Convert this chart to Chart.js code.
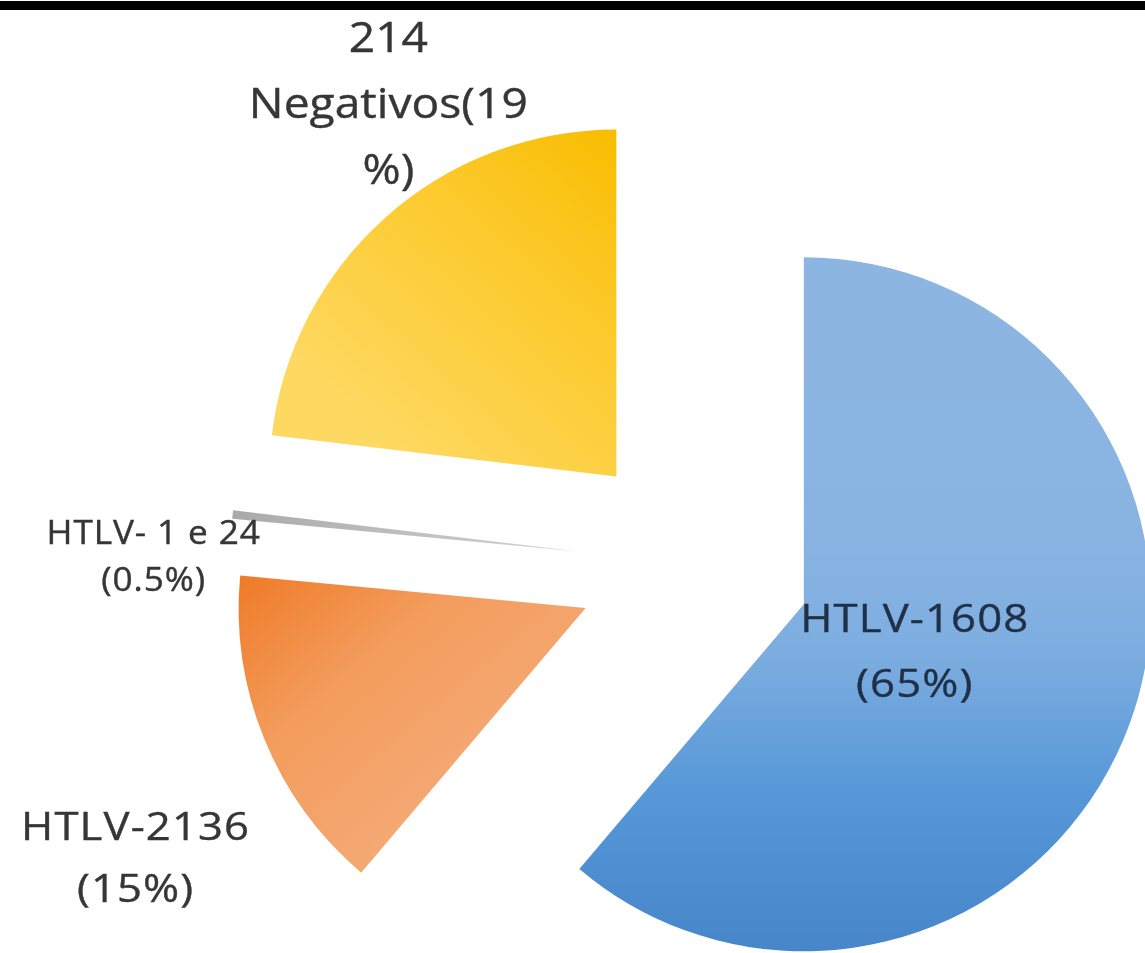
<!DOCTYPE html>
<html>
<head>
<meta charset="utf-8">
<script src="https://cdn.jsdelivr.net/npm/chart.js@4.4.1/dist/chart.umd.min.js"></script>
<style>
  html, body { margin: 0; padding: 0; background: #fff; overflow: hidden; }
  #barra { position: absolute; top: 1px; left: 0; width: 1145px; height: 9px; background: #000; z-index: 2; }
  #grafico { position: absolute; top: 0; left: 0; }
</style>
</head>
<body>
<div id="barra"></div>
<canvas id="grafico" width="1145" height="953"></canvas>
<script>
const categorias = ['HTLV-1', 'HTLV-2', 'HTLV-1 e 2', 'Negativos'];
const fatias = [61.2, 15.3, 0.4, 23.1];
const rotulos = [
    ['HTLV-1608', '(65%)'],
    ['HTLV-2136', '(15%)'],
    ['HTLV- 1 e 24', '(0.5%)'],
    ['214', 'Negativos(19', '%)']
];

const raio = 347;
const explosao = 117;

// gradiente de cada fatia a partir do vertice (x,y)
const gradientes = [
    (ctx, x, y, r) => {
        const g = ctx.createLinearGradient(x, y - r, x, y + r);
        g.addColorStop(0, '#8db5e1');
        g.addColorStop(0.4, '#89b4e2');
        g.addColorStop(0.57, '#7dade0');
        g.addColorStop(0.78, '#5597d8');
        g.addColorStop(1, '#4786c9');
        return g;
    },
    (ctx, x, y, r) => {
        const g = ctx.createLinearGradient(x - r, y - 0.1 * r, x - 0.45 * r, y + 0.55 * r);
        g.addColorStop(0, '#ef7a27');
        g.addColorStop(0.5, '#f39c5c');
        g.addColorStop(1, '#f4a872');
        return g;
    },
    (ctx, x, y, r) => {
        const g = ctx.createLinearGradient(x - r, y, x, y);
        g.addColorStop(0, '#a9a9a9');
        g.addColorStop(1, '#d4d4d4');
        return g;
    },
    (ctx, x, y, r) => {
        const g = ctx.createLinearGradient(x, y - r, x - 0.75 * r, y - 0.15 * r);
        g.addColorStop(0, '#f7bd00');
        g.addColorStop(0.35, '#fcc826');
        g.addColorStop(1, '#fed962');
        return g;
    }
];

// posicao dos rotulos medida a partir do vertice da fatia
const estiloRotulo = [
    { dx: 111, dy: 28, tam: 39, linha: 65, espaco: 1, escala: 1.12, cor: '#1f3047' },
    { dx: -450, dy: 232, tam: 39, linha: 62, espaco: 1, escala: 1.12, cor: '#363636' },
    { dx: -424, dy: -8, tam: 32, linha: 47, espaco: 0.8, escala: 1.1, cor: '#363636' },
    { dx: -228, dy: -424, tam: 42, linha: 66, espaco: 0, escala: 1.1, cor: '#363636' }
];

const explodir = {
    id: 'explodir',
    afterDatasetUpdate(chart, args) {
        const ctx = chart.ctx;
        args.meta.data.forEach((arco, i) => {
            const meio = (arco.startAngle + arco.endAngle) / 2;
            arco.x += Math.cos(meio) * explosao;
            arco.y += Math.sin(meio) * explosao;
            arco.options = Object.assign({}, arco.options, {
                backgroundColor: gradientes[i](ctx, arco.x, arco.y, arco.outerRadius)
            });
        });
    }
};

const rotular = {
    id: 'rotular',
    afterDatasetsDraw(chart) {
        const ctx = chart.ctx;
        const arcos = chart.getDatasetMeta(0).data;
        arcos.forEach((arco, i) => {
            const e = estiloRotulo[i];
            rotulos[i].forEach((linha, j) => {
                ctx.save();
                ctx.translate(arco.x + e.dx, arco.y + e.dy + j * e.linha);
                ctx.scale(e.escala, 1);
                ctx.font = e.tam + 'px "Open Sans"';
                ctx.textAlign = 'center';
                ctx.textBaseline = 'alphabetic';
                ctx.letterSpacing = e.espaco + 'px';
                ctx.fillStyle = e.cor;
                ctx.strokeStyle = e.cor;
                ctx.lineWidth = 0.4;
                ctx.fillText(linha, 0, 0);
                ctx.strokeText(linha, 0, 0);
                ctx.restore();
            });
        });
    }
};

const grafico = new Chart(document.getElementById('grafico'), {
    type: 'pie',
    data: {
        labels: categorias,
        datasets: [{
            data: fatias,
            backgroundColor: ['#7aaade', '#f29550', '#bfbfbf', '#fcca2e'],
            borderWidth: 0,
            radius: raio
        }]
    },
    options: {
        responsive: false,
        animation: false,
        events: [],
        layout: { padding: { left: 243, top: 175, right: 0, bottom: 0 } },
        plugins: {
            legend: { display: false },
            tooltip: { enabled: false }
        }
    },
    plugins: [explodir, rotular]
});
</script>
</body>
</html>
